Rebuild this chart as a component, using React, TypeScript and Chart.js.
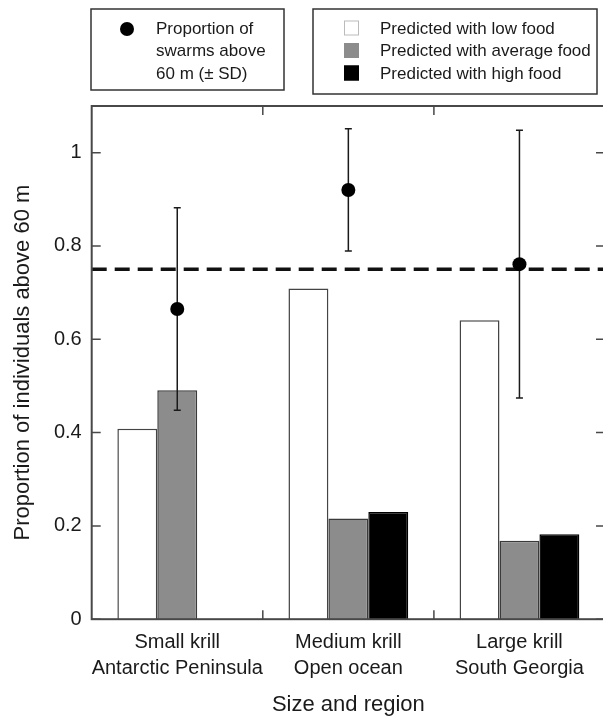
import React, { useEffect, useRef } from 'react';
import { Chart, registerables } from 'chart.js';

Chart.register(...registerables);

// ---- data ----
const categories = [
  ['Small krill', 'Antarctic Peninsula'],
  ['Medium krill', 'Open ocean'],
  ['Large krill', 'South Georgia'],
];
const lowFood = [0.408, 0.709, 0.641];
const averageFood = [0.491, 0.216, 0.168];
const highFood = [null, 0.23, 0.182];
const observed = [0.665, 0.92, 0.761];
const observedSD = [0.217, 0.131, 0.287];
const threshold = 0.75;
const yTickValues = [0, 0.2, 0.4, 0.6, 0.8, 1];
const seriesLabels = ['Predicted with low food', 'Predicted with average food', 'Predicted with high food'];
const observedLabelLines = ['Proportion of', 'swarms above', '60 m (\u00b1 SD)'];
const xTitle = 'Size and region';
const yTitle = 'Proportion of individuals above 60 m';

const FAMILY = '"Liberation Sans", Arial, Helvetica, sans-serif';
const TEXT = '#1a1a1a';
const FRAME = '#484848';
const barFills = ['#ffffff', '#8c8c8c', '#000000'];
const barBorders = ['#444444', '#3a3a3a', '#000000'];

const decorPlugin = {
  id: 'decor',
  beforeDatasetsDraw(chart: any) {
    const { ctx, chartArea: a, scales } = chart;
    const ty = scales.y.getPixelForValue(threshold);
    ctx.save();
    ctx.strokeStyle = '#111';
    ctx.lineWidth = 3.5;
    ctx.setLineDash([15, 8]);
    ctx.beginPath();
    ctx.moveTo(a.left, ty);
    ctx.lineTo(a.right, ty);
    ctx.stroke();
    ctx.restore();
  },
  beforeDatasetDraw(chart: any, args: any) {
    if (args.index !== 3) return;
    const { ctx, scales } = chart;
    const meta = chart.getDatasetMeta(3);
    ctx.save();
    ctx.strokeStyle = '#1a1a1a';
    ctx.lineWidth = 1.5;
    observed.forEach((v, i) => {
      const x = meta.data[i].x;
      const top = scales.y.getPixelForValue(v + observedSD[i]);
      const bot = scales.y.getPixelForValue(v - observedSD[i]);
      ctx.beginPath();
      ctx.moveTo(x, top);
      ctx.lineTo(x, bot);
      ctx.moveTo(x - 3.5, top);
      ctx.lineTo(x + 3.5, top);
      ctx.moveTo(x - 3.5, bot);
      ctx.lineTo(x + 3.5, bot);
      ctx.stroke();
    });
    ctx.restore();
  },
  afterDraw(chart: any) {
    const { ctx, chartArea: a, scales } = chart;
    ctx.save();
    // frame
    ctx.strokeStyle = FRAME;
    ctx.lineWidth = 2;
    ctx.strokeRect(a.left, a.top, a.right - a.left, a.bottom - a.top);
    // y ticks (inward, both sides)
    ctx.lineWidth = 1.5;
    ctx.beginPath();
    yTickValues.forEach((v) => {
      const y = scales.y.getPixelForValue(v);
      ctx.moveTo(a.left, y);
      ctx.lineTo(a.left + 9, y);
      ctx.moveTo(a.right, y);
      ctx.lineTo(a.right - 9, y);
    });
    // x ticks at category boundaries (inward, top and bottom)
    for (let i = 0; i < categories.length - 1; i++) {
      const x = (scales.x.getPixelForValue(i) + scales.x.getPixelForValue(i + 1)) / 2;
      ctx.moveTo(x, a.bottom);
      ctx.lineTo(x, a.bottom - 9);
      ctx.moveTo(x, a.top);
      ctx.lineTo(x, a.top + 9);
    }
    ctx.stroke();

    // legends
    ctx.font = `17px ${FAMILY}`;
    ctx.textBaseline = 'middle';
    ctx.textAlign = 'left';
    const rows = [29, 51.5, 74];
    // left legend box
    ctx.strokeStyle = '#333';
    ctx.lineWidth = 1.5;
    ctx.strokeRect(91, 9, 193, 81);
    ctx.fillStyle = '#000';
    ctx.beginPath();
    ctx.arc(127, rows[0], 7, 0, Math.PI * 2);
    ctx.fill();
    ctx.fillStyle = TEXT;
    observedLabelLines.forEach((t, i) => ctx.fillText(t, 156, rows[i]));
    // right legend box
    ctx.strokeStyle = '#333';
    ctx.strokeRect(313, 9, 284, 85);
    seriesLabels.forEach((t, i) => {
      const cy = rows[i] - 1;
      ctx.fillStyle = barFills[i];
      ctx.fillRect(344, cy - 7.5, 15, 15);
      ctx.strokeStyle = i === 0 ? '#bbb' : barFills[i];
      ctx.lineWidth = 1;
      ctx.strokeRect(344.5, cy - 7, 14, 14);
      ctx.fillStyle = TEXT;
      ctx.fillText(t, 380, rows[i]);
    });
    ctx.restore();
  },
};

export default function App() {
  const ref = useRef<HTMLCanvasElement | null>(null);
  useEffect(() => {
    if (!ref.current) return;
    const chart = new Chart(ref.current, {
      type: 'bar',
      data: {
        labels: categories,
        datasets: [
          { label: seriesLabels[0], data: lowFood, backgroundColor: barFills[0], borderColor: barBorders[0], borderWidth: 1.5, order: 1 },
          { label: seriesLabels[1], data: averageFood, backgroundColor: barFills[1], borderColor: barBorders[1], borderWidth: 1.5, order: 1 },
          { label: seriesLabels[2], data: highFood, backgroundColor: barFills[2], borderColor: barBorders[2], borderWidth: 1.5, order: 1 },
          {
            type: 'line',
            label: observedLabelLines.join(' '),
            data: observed,
            showLine: false,
            pointRadius: 7,
            pointBackgroundColor: '#000',
            pointBorderColor: '#000',
            pointBorderWidth: 0,
            order: 0,
          } as any,
        ],
      },
      options: {
        animation: false,
        responsive: false,
        devicePixelRatio: 1,
        layout: { padding: { left: 0, right: 7, top: 106, bottom: 0 } },
        plugins: { legend: { display: false }, tooltip: { enabled: false } },
        datasets: { bar: { categoryPercentage: 0.7, barPercentage: 1 } } as any,
        scales: {
          x: {
            type: 'category',
            offset: true,
            grid: { display: false, drawTicks: false },
            border: { display: false },
            ticks: {
              padding: 10,
              color: TEXT,
              autoSkip: false,
              maxRotation: 0,
              font: { family: FAMILY, size: 20, lineHeight: 1.3 },
            },
            title: {
              display: true,
              text: xTitle,
              color: TEXT,
              font: { family: FAMILY, size: 22, lineHeight: 1.05 },
              padding: { top: 0, bottom: 0 },
            },
            afterFit: (s: any) => {
              s.height = 96.8;
            },
          },
          y: {
            min: 0,
            max: 1.1,
            grid: { display: false, drawTicks: false },
            border: { display: false },
            ticks: {
              stepSize: 0.2,
              includeBounds: false,
              padding: 10,
              color: TEXT,
              font: { family: FAMILY, size: 20 },
              callback: (v: any) => String(Math.round(Number(v) * 10) / 10),
            },
            title: {
              display: true,
              text: yTitle,
              color: TEXT,
              font: { family: FAMILY, size: 22 },
              padding: { top: 10, bottom: 0 },
            },
            afterFit: (s: any) => {
              s.width = 91.7;
            },
          },
        },
      } as any,
      plugins: [decorPlugin],
    });
    return () => chart.destroy();
  }, []);

  return (
    <div
      style={{
        position: 'fixed',
        left: 0,
        top: 0,
        width: 603,
        height: 716,
        overflow: 'hidden',
        background: '#fff',
      }}
    >
      <canvas ref={ref} width={612} height={716} style={{ display: 'block', width: 612, height: 716 }} />
    </div>
  );
}
